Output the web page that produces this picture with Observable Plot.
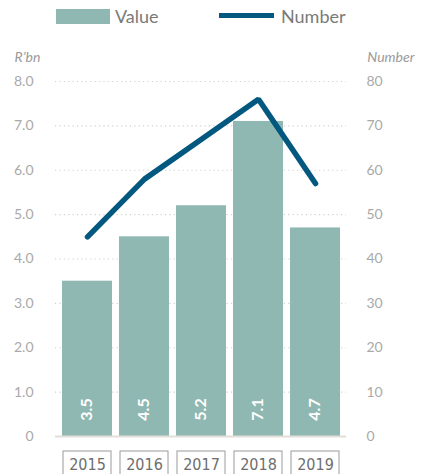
<!DOCTYPE html>
<html>
<head>
<meta charset="utf-8">
<script src="https://cdn.jsdelivr.net/npm/d3@7"></script>
<script src="https://cdn.jsdelivr.net/npm/@observablehq/plot@0.6"></script>
<style>
  html, body { margin: 0; padding: 0; background: #fff; }
  #wrap { width: 423px; height: 474px; overflow: hidden; font-family: Lato, "Open Sans", sans-serif; }
  #legend { position: relative; height: 36px; }
  .sw { position: absolute; }
  .lt { position: absolute; font-size: 18px; color: #7a7a7a; line-height: 1; }
  svg { display: block; }
</style>
</head>
<body>
<div id="wrap">
  <div id="legend">
    <div class="sw" style="left:56px;top:9px;width:54px;height:15px;background:#8fb8b2"></div>
    <div class="lt" style="left:115px;top:7px">Value</div>
    <div class="sw" style="left:219px;top:13px;width:55px;height:5px;background:#03587f"></div>
    <div class="lt" style="left:281px;top:7px">Number</div>
  </div>
  <div id="chart"></div>
</div>
<script>
const years = ["2015", "2016", "2017", "2018", "2019"];
const values = [3.5, 4.5, 5.2, 7.1, 4.7];      // R'bn
const numbers = [45, 58, 67, 76, 57];          // Number
const leftTicks = [0, 1, 2, 3, 4, 5, 6, 7, 8];
const rightTickLabels = ["0", "10", "20", "30", "40", "50", "60", "70", "80"];

const data = years.map((y, i) => ({year: y, value: values[i], number: numbers[i]}));

const tickColor = "#a9a9a9";
const chart = Plot.plot({
  width: 423,
  height: 438,
  marginTop: 45,
  marginBottom: 38,
  marginLeft: 55,
  marginRight: 77,
  style: {fontFamily: "Lato, 'Open Sans', sans-serif", background: "#fff"},
  x: {type: "band", domain: years, paddingInner: 0.125, paddingOuter: 0.09, axis: null},
  y: {domain: [0, 8], axis: null},
  marks: [
    Plot.ruleY(leftTicks.filter(d => d > 0), {stroke: "#cfcfcf", strokeDasharray: "1.2,3.2", strokeWidth: 1.2}),
    Plot.axisY(leftTicks, {anchor: "left", tickSize: 0, tickPadding: 22, fontSize: 14, fill: tickColor,
      tickFormat: d => d === 0 ? "0" : d.toFixed(1), label: null}),
    Plot.axisY(leftTicks, {anchor: "right", tickSize: 0, tickPadding: 20, fontSize: 14, fill: tickColor,
      tickFormat: (d, i) => rightTickLabels[i], label: null}),
    Plot.text(["R’bn"], {frameAnchor: "top-left", dx: -41, dy: -29, textAnchor: "start", fontStyle: "italic", fontSize: 14, fill: "#9a9a9a"}),
    Plot.text(["Number"], {frameAnchor: "top-right", dx: 68, dy: -29, textAnchor: "end", fontStyle: "italic", fontSize: 14, fill: "#9a9a9a"}),
    Plot.barY(data, {x: "year", y: "value", fill: "#8fb8b2"}),
    Plot.line(data, {x: "year", y: d => d.number / 10, stroke: "#03587f", strokeWidth: 5.5, strokeLinecap: "round", strokeLinejoin: "miter"}),
    Plot.text(data, {x: "year", y: 0, text: d => d.value.toFixed(1), rotate: -90, dx: -1, dy: -27, fill: "#fff", fontWeight: "bold", fontSize: 16, textAnchor: "middle", lineAnchor: "middle"}),
    Plot.ruleY([0], {stroke: "#e2dfd8", strokeWidth: 2}),
    Plot.barY(years, {x: d => d, y1: 0, y2: 0, insetTop: 15, insetBottom: -45, insetLeft: 1, insetRight: 1, fill: "none", stroke: "#9a9a9a", strokeWidth: 1}),
    Plot.text(years, {x: d => d, y: 0, dy: 28, text: d => d, fontSize: 16, fill: "#6e6e6e", lineAnchor: "middle",
      fontFamily: "'Liberation Sans Narrow', 'DejaVu Sans Condensed', sans-serif"})
  ]
});
document.getElementById("chart").appendChild(chart);
</script>
</body>
</html>
